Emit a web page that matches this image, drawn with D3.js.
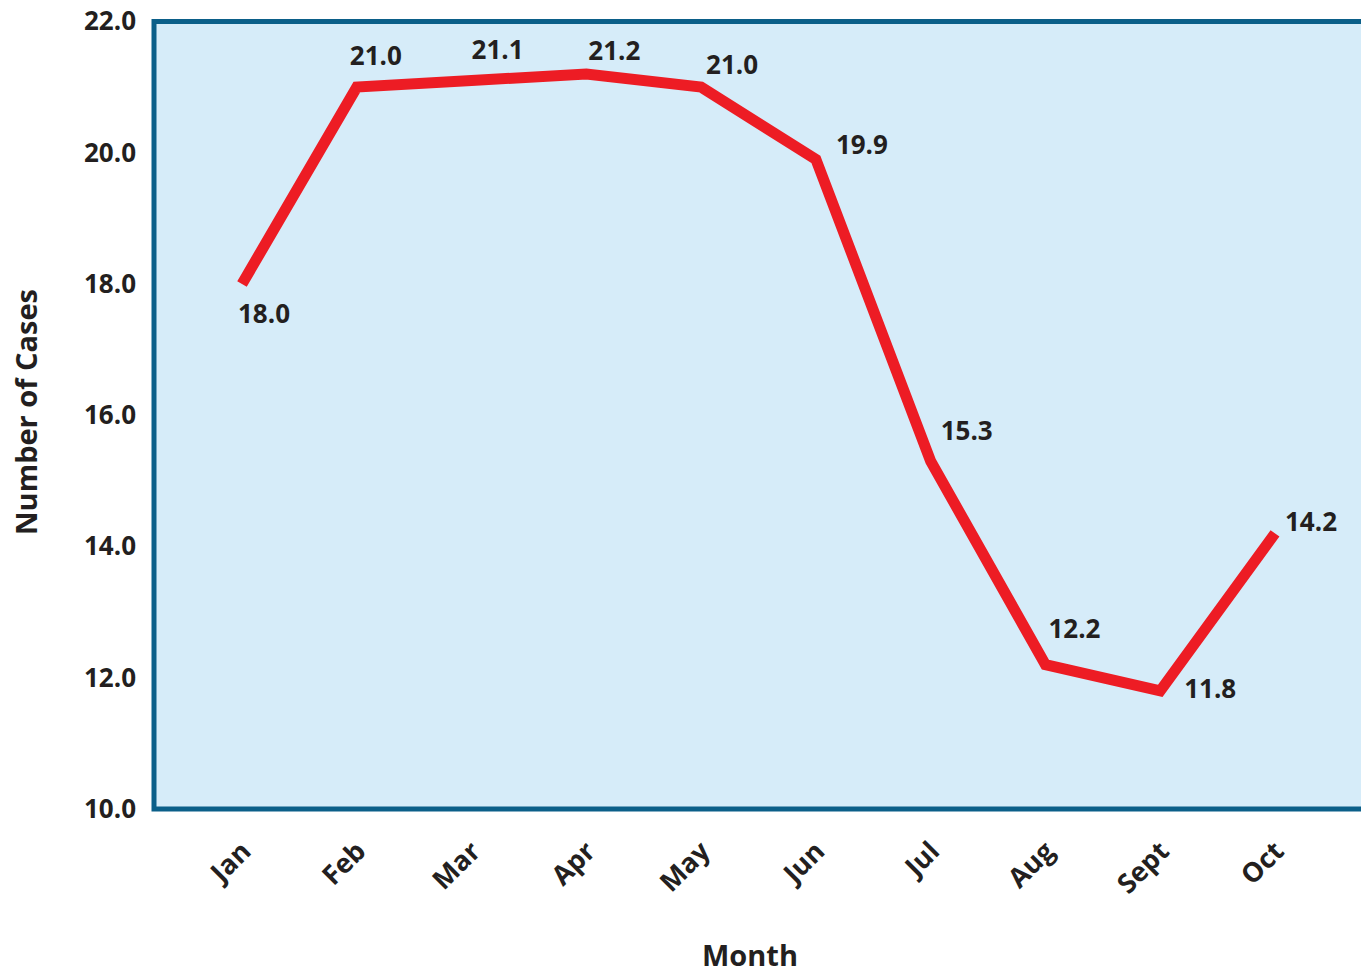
<!DOCTYPE html>
<html>
<head>
<meta charset="utf-8">
<script src="https://cdn.jsdelivr.net/npm/d3@7"></script>
<style>
  html, body { margin: 0; padding: 0; background: #ffffff; }
  svg { display: block; }
  text { font-family: "Open Sans", "Noto Sans", sans-serif; font-weight: 700; fill: #231f20; }
</style>
</head>
<body>
<svg id="chart" width="1361" height="975"></svg>
<script>
// Monthly case counts
const months = ["Jan", "Feb", "Mar", "Apr", "May", "Jun", "Jul", "Aug", "Sept", "Oct"];
const cases = [18.0, 21.0, 21.1, 21.2, 21.0, 19.9, 15.3, 12.2, 11.8, 14.2];
const yTicks = [10, 12, 14, 16, 18, 20, 22];

// Nudges for the value labels (dx, dy from each point)
const labelNudge = [
  [-4, 39], [-7, -22], [0, -22], [2, -14], [5, -13],
  [20, -5], [10, -21], [3, -27], [24, 7], [10, -2]
];

const svg = d3.select("#chart");

const frame = { left: 154, top: 21.5, right: 1366, bottom: 809 };

const x = d3.scalePoint()
  .domain(months)
  .range([242, 1275]);

const y = d3.scaleLinear()
  .domain([10, 22])
  .range([frame.bottom, frame.top]);

// Plot panel
svg.append("rect")
  .attr("x", frame.left)
  .attr("y", frame.top)
  .attr("width", frame.right - frame.left)
  .attr("height", frame.bottom - frame.top)
  .attr("fill", "#d6ecf9")
  .attr("stroke", "#0b5f89")
  .attr("stroke-width", 5);

// Y axis labels
const yAxis = d3.axisLeft(y)
  .tickValues(yTicks)
  .tickFormat(d3.format(".1f"))
  .tickSize(0)
  .tickPadding(0);

svg.append("g")
  .attr("transform", `translate(136,0)`)
  .call(yAxis)
  .call(g => g.select(".domain").remove())
  .call(g => g.selectAll("text")
    .attr("font-size", 26)
    .attr("font-family", null)
    .attr("fill", "#231f20"));

// X axis labels, slanted
const xAxis = d3.axisBottom(x).tickSize(0).tickPadding(0);
svg.append("g")
  .attr("transform", `translate(0,${frame.bottom})`)
  .call(xAxis)
  .call(g => g.select(".domain").remove())
  .call(g => g.selectAll("text")
    .attr("font-size", 27)
    .attr("font-family", null)
    .attr("fill", "#231f20")
    .attr("text-anchor", "end")
    .attr("dy", null)
    .attr("y", 0)
    .attr("transform", "translate(10,44) rotate(-45)"));

// Axis titles
svg.append("text")
  .attr("x", 750)
  .attr("y", 966)
  .attr("text-anchor", "middle")
  .attr("font-size", 29)
  .text("Month");

svg.append("text")
  .attr("transform", "translate(37,412) rotate(-90)")
  .attr("text-anchor", "middle")
  .attr("font-size", 29)
  .text("Number of Cases");

// Series line
const line = d3.line()
  .x((d, i) => x(months[i]))
  .y(d => y(d));

svg.append("path")
  .datum(cases)
  .attr("d", line)
  .attr("fill", "none")
  .attr("stroke", "#ed1c24")
  .attr("stroke-width", 11)
  .attr("stroke-linejoin", "miter")
  .attr("stroke-linecap", "butt");

// Value labels
svg.append("g")
  .selectAll("text")
  .data(cases)
  .join("text")
  .attr("x", (d, i) => x(months[i]) + labelNudge[i][0])
  .attr("y", (d, i) => y(d) + labelNudge[i][1])
  .attr("font-size", 26)
  .text(d => d3.format(".1f")(d));
</script>
</body>
</html>
